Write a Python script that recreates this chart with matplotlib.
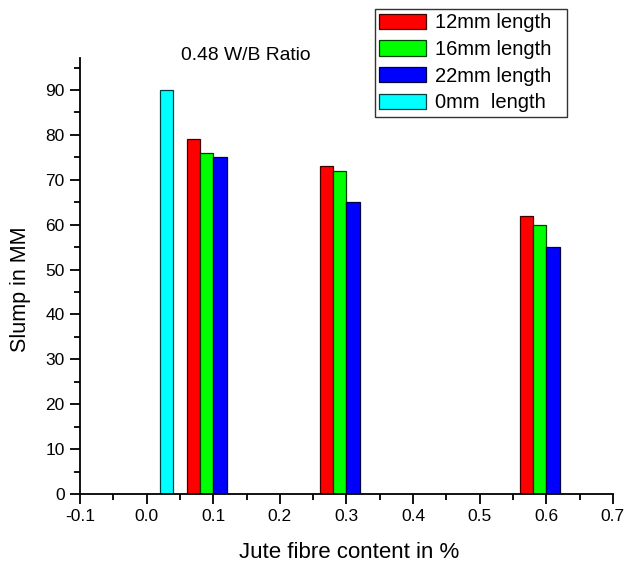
import matplotlib
matplotlib.use("Agg")
import matplotlib.pyplot as plt
from matplotlib.ticker import MultipleLocator

plt.rcParams['font.family'] = ['Liberation Sans', 'DejaVu Sans']

# fibre content (%) and slump values (mm)
fibre = [0.1, 0.3, 0.6]
len12 = [79, 73, 62]
len16 = [76, 72, 60]
len22 = [75, 65, 55]
fibre0 = [0.03]
len0 = [90]

w = 0.02

fig = plt.figure(figsize=(6.26, 5.64), dpi=100)
ax = fig.add_axes([0.128, 0.124, 0.851, 0.773])

ax.bar([v - 0.04 for v in fibre], len12, w, align="edge", color="#ff0000", edgecolor="#400000", lw=0.9, label="12mm length")
ax.bar([v - 0.02 for v in fibre], len16, w, align="edge", color="#00ff00", edgecolor="#004000", lw=0.9, label="16mm length")
ax.bar(fibre, len22, w, align="edge", color="#0000ff", edgecolor="#000040", lw=0.9, label="22mm length")
ax.bar([v - 0.01 for v in fibre0], len0, w, align="edge", color="#00ffff", edgecolor="#004040", lw=0.9, label="0mm  length")

ax.set_xlim(-0.1, 0.7)
ax.set_ylim(0, 97.1)
ax.xaxis.set_minor_locator(MultipleLocator(0.05))
ax.yaxis.set_major_locator(MultipleLocator(10))
ax.yaxis.set_minor_locator(MultipleLocator(5))
ax.set_xticks([-0.1, 0.0, 0.1, 0.2, 0.3, 0.4, 0.5, 0.6, 0.7])
ax.set_xticklabels(["-0.1", "0.0", "0.1", "0.2", "0.3", "0.4", "0.5", "0.6", "0.7"])
ax.spines["top"].set_visible(False)
ax.spines["right"].set_visible(False)
ax.spines["left"].set_linewidth(1.3)
ax.spines["bottom"].set_linewidth(1.3)
ax.tick_params(which="major", direction="out", length=7, width=1.3, labelsize=12.5, pad=4)
ax.tick_params(which="minor", direction="out", length=4, width=1.3)

ax.set_xlabel("Jute fibre content in %", fontsize=16, va="center")
ax.xaxis.set_label_coords(0.505, -0.133)
ax.set_ylabel("Slump in MM", fontsize=15.5, va="center")
ax.yaxis.set_label_coords(-0.1126, 0.47)
fig.text(0.393, 0.902, "0.48 W/B Ratio", fontsize=13.9, ha="center", va="center")

leg = fig.legend(loc="upper left", bbox_to_anchor=(0.599, 0.8, 0.307, 0.184), mode="expand",
                 fontsize=14.5, fancybox=False, framealpha=1, edgecolor="#333333",
                 handlelength=2.3, handleheight=0.8, handletextpad=0.45,
                 labelspacing=0.38, borderpad=0.22, borderaxespad=0)
leg.get_frame().set_linewidth(1.0)

fig.savefig("out.png", dpi=100)
